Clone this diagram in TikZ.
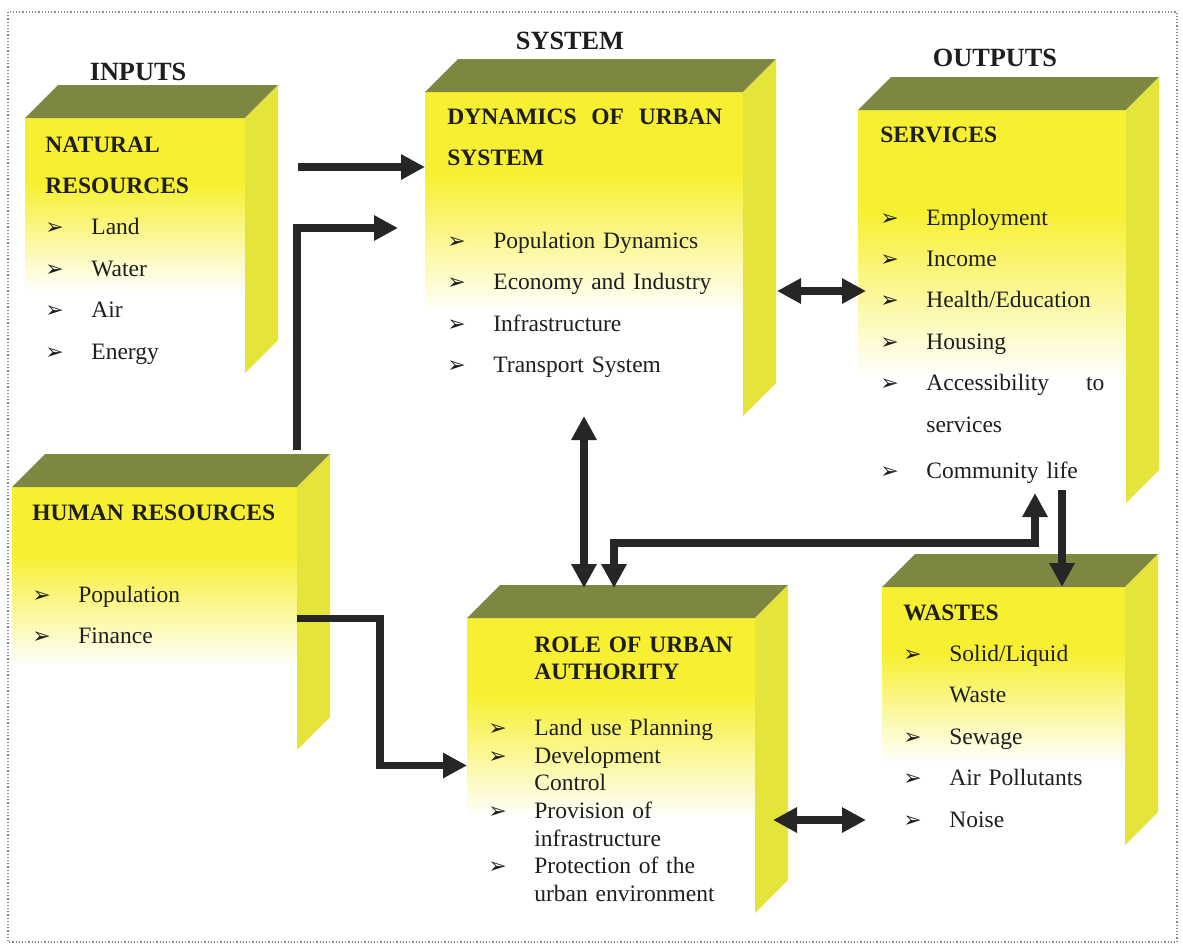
\documentclass[tikz,border=0pt]{standalone}
\usepackage{fontspec}
\setmainfont{Liberation Serif}
\newfontfamily\dingfont{DejaVu Sans}
\usetikzlibrary{arrows.meta, calc, fit}
\definecolor{ctop}{HTML}{7E8741}
\definecolor{cside}{HTML}{E4E43A}
\definecolor{cfront}{HTML}{F7F032}
\definecolor{cink}{HTML}{1E1E1E}
\definecolor{carrow}{HTML}{262626}
\definecolor{cframe}{HTML}{8A8A8A}
% yellow at the top of a front face, white towards the bottom
\pgfdeclareverticalshading{frontfade}{100bp}{color(0bp)=(white); color(41bp)=(white); color(62bp)=(cfront); color(100bp)=(cfront)}
\newcommand\itm{\makebox[23pt][l]{\dingfont\fontsize{11pt}{11pt}\selectfont ➢}}
\newcommand\cont{\hspace*{23pt}}
% top and right faces of a box, behind its front node
\newcommand\cubefaces[1]{%
  \fill[topface] (#1.north west) -- ++(33,-33) -- ($(#1.north east)+(33,-33)$) -- (#1.north east) -- cycle;
  \fill[sideface] (#1.north east) -- ++(33,-33) -- ($(#1.south east)+(33,-33)$) -- (#1.south east) -- cycle;}
\tikzset{
  every picture/.style={x=0.5pt, y=-0.5pt},
  frontface/.style={inner sep=0pt, outer sep=0pt, shade, shading=frontfade},
  topface/.style={fill=ctop},
  sideface/.style={fill=cside},
  outerframe/.style={draw=cframe, line width=0.6pt, densely dotted},
  title/.style={font=\fontsize{13.15pt}{15pt}\selectfont\bfseries, text=cink, anchor=base, inner sep=0pt},
  boxtext/.style={anchor=base west, inner sep=0pt, text width=150pt, align=left, text=cink, font=\fontsize{11.75pt}{20.7pt}\selectfont},
  tightlines/.style={font=\fontsize{11.75pt}{13.8pt}\selectfont},
  arrow/.style={-{Triangle[length=12pt, width=12pt]}, draw=carrow, line width=3.7pt},
  biarrow/.style={{Triangle[length=12pt, width=12pt]}-{Triangle[length=12pt, width=12pt]}, draw=carrow, line width=3.7pt},
}

\begin{document}
\begin{tikzpicture}
  \useasboundingbox (0,0) rectangle (1183,944);
  \draw[outerframe] (8,12) rectangle (1177,942);

  % the six boxes
  \node (nat) [frontface, fit={(25,118) (245,373)}] {};
  \node (dyn) [frontface, fit={(425,92) (743,416)}] {};
  \node (ser) [frontface, fit={(858,110) (1126,503)}] {};
  \node (hum) [frontface, fit={(12,487) (297,750)}] {};
  \node (rol) [frontface, fit={(467,618) (755,913)}] {};
  \node (was) [frontface, fit={(882,587) (1125,845)}] {};
  \foreach \b in {nat,dyn,ser,hum,rol,was} {\cubefaces{\b}}

  \node (t-in) [title] at (138,80) {INPUTS};
  \node (t-sys) [title] at (570,49) {SYSTEM};
  \node (t-out) [title] at (995,66) {OUTPUTS};

  \node (nat-txt) [boxtext] at (45,152) {\textbf{NATURAL}\\ \textbf{RESOURCES}\\ \itm Land\\ \itm Water\\ \itm Air\\ \itm Energy};
  \node (dyn-txt) [boxtext] at (447,124) {\textbf{\makebox[137.5pt][l]{DYNAMICS\hfill OF\hfill URBAN}}\\ \textbf{SYSTEM}\\[20.8pt] \itm Population Dynamics\\ \itm Economy and Industry\\ \itm Infrastructure\\ \itm Transport System};
  \node (ser-txt) [boxtext] at (880,142) {\textbf{SERVICES}\\[20.8pt] \itm Employment\\ \itm Income\\ \itm Health/Education\\ \itm Housing\\ \itm\makebox[89pt][l]{Accessibility\hfill to}\\ \cont services\\[2.3pt] \itm Community life};
  \node (hum-txt) [boxtext] at (32,520) {\textbf{HUMAN RESOURCES}\\[20.3pt] \itm Population\\ \itm Finance};
  \node (rol-txt) [boxtext, tightlines] at (488,652) {\cont\textbf{ROLE OF URBAN}\\ \cont\textbf{AUTHORITY}\\[14.2pt] \itm Land use Planning\\ \itm Development\\ \cont Control\\ \itm Provision of\\ \cont infrastructure\\ \itm Protection of the\\ \cont urban environment};
  \node (was-txt) [boxtext] at (903,620) {\textbf{WASTES}\\ \itm Solid/Liquid\\ \cont Waste\\ \itm Sewage\\ \itm Air Pollutants\\ \itm Noise};

  % flows between the boxes
  \coordinate (nat-out) at (298,167);
  \draw[arrow] (nat-out) -- (nat-out -| dyn.west);
  \coordinate (hum-up) at (297,450);
  \coordinate (dyn-in) at (398,228);
  \draw[arrow] (hum-up) |- (dyn-in);
  \draw[arrow] (hum.east) -- ++(83,0) |- (rol.west);
  \coordinate (dyn-r) at (777,291);
  \coordinate (ser-l) at (866,291);
  \draw[biarrow] (dyn-r) -- (ser-l);
  \coordinate (rol-top) at (584,588);
  \draw[biarrow] (dyn.south) -- (rol-top);
  \coordinate (ser-low) at (1035,493);
  \coordinate (rol-top2) at (614,588);
  \draw[biarrow] (ser-low) -- ++(0,50) -| (rol-top2);
  \coordinate (ser-down) at (1062,490);
  \draw[arrow] (ser-down) -- (ser-down |- was.north);
  \coordinate (rol-r) at (773,820);
  \coordinate (was-l) at (866,820);
  \draw[biarrow] (rol-r) -- (was-l);
\end{tikzpicture}
\end{document}
